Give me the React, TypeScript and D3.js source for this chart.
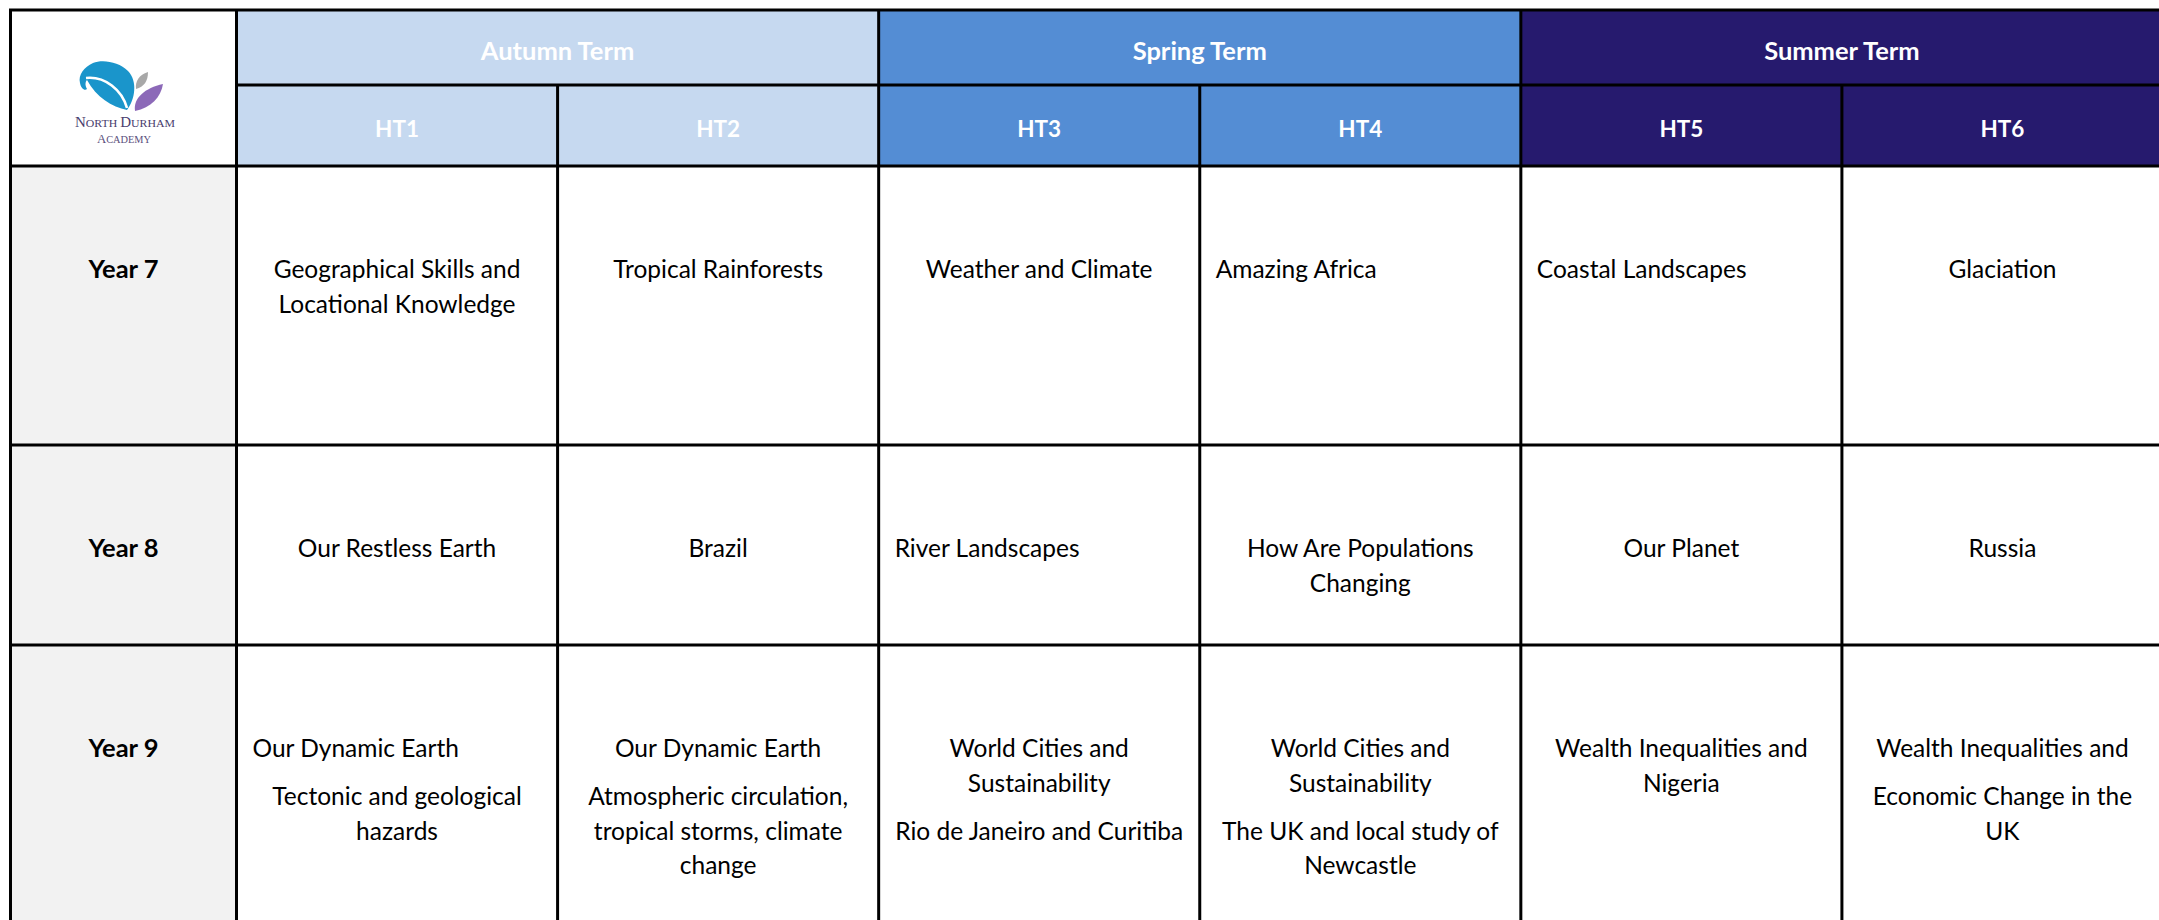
import React from "react";
import * as d3 from "d3";

// ---------- data ----------
const terms = ["Autumn Term", "Spring Term", "Summer Term"];
const halfTerms = ["HT1", "HT2", "HT3", "HT4", "HT5", "HT6"];
const years = ["Year 7", "Year 8", "Year 9"];

// each cell: list of paragraphs, each paragraph a list of lines
const year7Topics = [
  [["Geographical Skills and", "Locational Knowledge"]],
  [["Tropical Rainforests"]],
  [["Weather and Climate"]],
  [["Amazing Africa"]],
  [["Coastal Landscapes"]],
  [["Glaciation"]],
];
const year8Topics = [
  [["Our Restless Earth"]],
  [["Brazil"]],
  [["River Landscapes"]],
  [["How Are Populations", "Changing"]],
  [["Our Planet"]],
  [["Russia"]],
];
const year9Topics = [
  [["Our Dynamic Earth"], ["Tectonic and geological", "hazards"]],
  [["Our Dynamic Earth"], ["Atmospheric circulation,", "tropical storms, climate", "change"]],
  [["World Cities and", "Sustainability"], ["Rio de Janeiro and Curitiba"]],
  [["World Cities and", "Sustainability"], ["The UK and local study of", "Newcastle"]],
  [["Wealth Inequalities and", "Nigeria"]],
  [["Wealth Inequalities and"], ["Economic Change in the", "UK"]],
];
const topicsByYear = [year7Topics, year8Topics, year9Topics];

// ---------- layout / style ----------
const W = 2159;
const H = 920;
const tableLeft = 10.5;
const tableTop = 10;
const labelColRight = 236.5;
const tableRight = 2163;
const headerRowBottoms = [85, 166];
const rowEdges = [166, 445, 645, 960];
const termColors = ["#C6D9F0", "#548DD4", "#261A6E"];
const yearFill = "#F2F2F2";
const line = "#000000";
const bodyFont = "Lato, 'Open Sans', sans-serif";
// per-paragraph alignment: "c" centered, "l" left
const alignByYear = [
  [["c"], ["c"], ["c"], ["l"], ["l"], ["c"]],
  [["c"], ["c"], ["l"], ["c"], ["c"], ["c"]],
  [["l", "c"], ["c", "c"], ["c", "c"], ["c", "c"], ["c"], ["c", "c"]],
];
const firstBaseline = 112;
const lineStep = 34.5;
const paraStep = 48;
const leftPad = 16;

export default function App() {
  const x = d3.scaleBand<string>().domain(halfTerms).range([labelColRight, tableRight]).paddingInner(0).paddingOuter(0);
  const xt = d3.scaleBand<string>().domain(terms).range([labelColRight, tableRight]).paddingInner(0).paddingOuter(0);
  const y = d3.scaleOrdinal<string, number>().domain(years).range(rowEdges.slice(0, 3));
  const rowH = (i: number) => rowEdges[i + 1] - rowEdges[i];

  const cellTexts: React.ReactNode[] = [];
  topicsByYear.forEach((row, ri) => {
    const top = y(years[ri]);
    row.forEach((paras, ci) => {
      const x0 = x(halfTerms[ci])!;
      const cx = x0 + x.bandwidth() / 2;
      let by = top + firstBaseline;
      paras.forEach((lines, pi) => {
        const al = alignByYear[ri][ci][pi] || "c";
        lines.forEach((ln, li) => {
          if (li > 0) by += lineStep;
          else if (pi > 0) by += paraStep;
          cellTexts.push(
            <text
              key={`${ri}-${ci}-${pi}-${li}`}
              x={al === "c" ? cx : x0 + leftPad}
              y={by}
              textAnchor={al === "c" ? "middle" : "start"}
              fontFamily={bodyFont}
              fontSize={24.5}
              fill="#000"
            >
              {ln}
            </text>
          );
        });
      });
    });
  });

  const hbX = x.range()[0];
  return (
    <svg
      width={W}
      height={H}
      viewBox={`0 0 ${W} ${H}`}
      style={{ position: "absolute", left: 0, top: 0, display: "block", background: "#fff" }}
    >
      {/* logo cell */}
      <rect x={tableLeft} y={tableTop} width={labelColRight - tableLeft} height={headerRowBottoms[1] - tableTop} fill="#fff" />
      {/* term header fills */}
      {terms.map((t, i) => (
        <rect key={t} x={xt(t)!} y={tableTop} width={xt.bandwidth()} height={headerRowBottoms[1] - tableTop} fill={termColors[i]} />
      ))}
      {/* year label column */}
      {years.map((yr, i) => (
        <rect key={yr} x={tableLeft} y={y(yr)} width={labelColRight - tableLeft} height={rowH(i)} fill={yearFill} />
      ))}

      {/* header text */}
      {terms.map((t) => (
        <text key={t} x={xt(t)! + xt.bandwidth() / 2} y={59.5} textAnchor="middle" fontFamily={bodyFont} fontWeight={700} fontSize={25.5} fill="#fff">
          {t}
        </text>
      ))}
      {halfTerms.map((h) => (
        <text key={h} x={x(h)! + x.bandwidth() / 2} y={136.5} textAnchor="middle" fontFamily={bodyFont} fontWeight={700} fontSize={22.5} fill="#fff">
          {h}
        </text>
      ))}
      {years.map((yr) => (
        <text key={yr} x={(tableLeft + labelColRight) / 2} y={y(yr) + firstBaseline} textAnchor="middle" fontFamily={bodyFont} fontWeight={700} fontSize={25.5} fill="#000">
          {yr}
        </text>
      ))}

      {cellTexts}

      {/* logo */}
      <g>
        <path
          d="M127,110 C135,100 138,81 128,71 C119,62 103,59 93,63 C84,67 78,75 80,83 C81,89 85,91 87,89 C85,86 85,82 87,80 C96,97 112,107 127,110 Z"
          fill="#1A95CB"
        />
        <path d="M86,78 C105,76 122,90 127,108" fill="none" stroke="#fff" strokeWidth={2.6} />
        <path d="M136,89 C135,81 139,75 148,72 C148,81 144,87 136,89 Z" fill="#A8A8A8" />
        <path d="M135,111 C133,98 145,88 163,84 C161,97 151,108 135,111 Z" fill="#8C69B8" />
        <text x={125} y={127} textAnchor="middle" fontFamily="'Liberation Serif', serif" fill="#4A3D6E" textLength={100} lengthAdjust="spacingAndGlyphs">
          <tspan fontSize={14}>N</tspan>
          <tspan fontSize={11}>ORTH </tspan>
          <tspan fontSize={14}>D</tspan>
          <tspan fontSize={11}>URHAM</tspan>
        </text>
        <text x={124} y={143} textAnchor="middle" fontFamily="'Liberation Serif', serif" fill="#5A4F7C" textLength={54} lengthAdjust="spacingAndGlyphs">
          <tspan fontSize={13}>A</tspan>
          <tspan fontSize={10.5}>CADEMY</tspan>
        </text>
      </g>

      {/* grid lines */}
      <g stroke={line} strokeWidth={3} fill="none">
        <line x1={tableLeft - 1.5} x2={W} y1={tableTop} y2={tableTop} />
        <line x1={labelColRight} x2={W} y1={headerRowBottoms[0]} y2={headerRowBottoms[0]} />
        {[headerRowBottoms[1], ...rowEdges.slice(1, 3)].map((yy) => (
          <line key={yy} x1={tableLeft} x2={W} y1={yy} y2={yy} />
        ))}
        <line x1={tableLeft} x2={tableLeft} y1={tableTop} y2={H} />
        <line x1={hbX} x2={hbX} y1={tableTop} y2={H} />
        {terms.slice(1).map((t) => (
          <line key={t} x1={xt(t)!} x2={xt(t)!} y1={tableTop} y2={H} />
        ))}
        {halfTerms.filter((_, i) => i % 2 === 1).map((h) => (
          <line key={h} x1={x(h)!} x2={x(h)!} y1={headerRowBottoms[0]} y2={H} />
        ))}
      </g>
    </svg>
  );
}
